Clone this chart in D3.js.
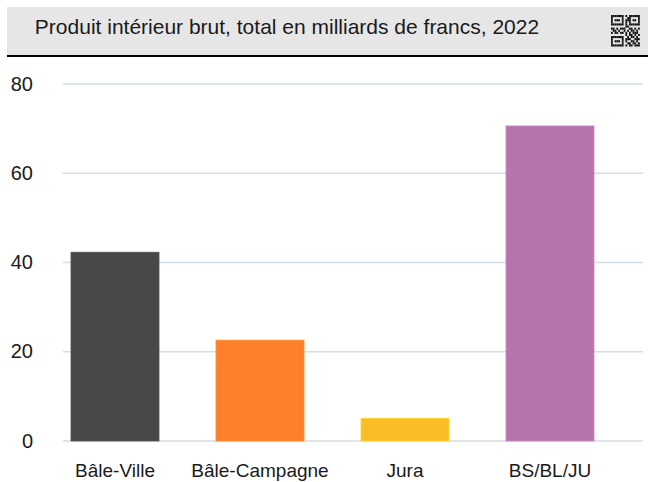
<!DOCTYPE html>
<html>
<head>
<meta charset="utf-8">
<script src="https://cdn.jsdelivr.net/npm/d3@7"></script>
<style>
  body { margin: 0; background: #fff; }
  text { font-family: "Liberation Sans", Arial, sans-serif; fill: #1a1a1a; }
</style>
</head>
<body>
<div id="chart"></div>
<script>
// data
var cantons = ["Bâle-Ville", "Bâle-Campagne", "Jura", "BS/BL/JU"];
var pib = [42.3, 22.6, 5.1, 70.6];
var barColors = ["#484848", "#fd7f29", "#f9bd26", "#b375ab"];
var yTicks = [0, 20, 40, 60, 80];
var title = "Produit intérieur brut, total en milliards de francs, 2022";

var W = 648, H = 482;

var svg = d3.select("#chart").append("svg")
    .attr("width", W)
    .attr("height", H);

// header band
svg.append("rect")
    .attr("x", 7).attr("y", 7)
    .attr("width", W - 7).attr("height", 48)
    .style("fill", "#e6e6e6");
svg.append("rect")
    .attr("x", 7).attr("y", 55)
    .attr("width", W - 7).attr("height", 2)
    .style("fill", "#000");
svg.append("text")
    .attr("x", 287).attr("y", 34)
    .attr("text-anchor", "middle")
    .style("font-size", "21px")
    .text(title);

// little qr-ish badge
var qr = [
  "1111111010111111",
  "1000001001100001",
  "1011101011101101",
  "1000001010100001",
  "1111111010111111",
  "0000000011000000",
  "1101011100110101",
  "0110100101011010",
  "1011011010101110",
  "0000000010110101",
  "1111111001011010",
  "1000001011100111",
  "1011101010011010",
  "1000001001101101",
  "1111111010110111"
];
var qg = svg.append("g").attr("transform", "translate(611,15)");
qr.forEach(function(row, r) {
  row.split("").forEach(function(c, k) {
    if (c === "1") {
      qg.append("rect")
        .attr("x", k * 1.8).attr("y", r * 2.1)
        .attr("width", 1.8).attr("height", 2.1)
        .style("fill", "#111");
    }
  });
});

var y_scale = d3.scaleLinear()
    .domain([0, 80])
    .range([441, 84]);

var x_scale = d3.scaleBand()
    .domain(cantons)
    .range([42.5, 622.5])
    .paddingInner(0.393)
    .paddingOuter(0.1965);

// gridlines
svg.append("g")
    .selectAll("line")
    .data(yTicks)
    .enter().append("line")
    .attr("x1", 63).attr("x2", 643)
    .attr("y1", function(d) { return y_scale(d); })
    .attr("y2", function(d) { return y_scale(d); })
    .style("stroke", "#d3dee6")
    .style("stroke-width", 1.5);

// y tick labels
svg.append("g")
    .selectAll("text")
    .data(yTicks)
    .enter().append("text")
    .attr("x", 33)
    .attr("y", function(d) { return y_scale(d); })
    .attr("dy", "0.33em")
    .attr("text-anchor", "end")
    .style("font-size", "20px")
    .text(function(d) { return d; });

// bars
svg.append("g")
    .selectAll("rect")
    .data(pib)
    .enter().append("rect")
    .attr("x", function(d, i) { return x_scale(cantons[i]); })
    .attr("width", x_scale.bandwidth())
    .attr("y", function(d) { return y_scale(d); })
    .attr("height", function(d) { return y_scale(0) - y_scale(d); })
    .style("fill", function(d, i) { return barColors[i]; })
    .style("stroke", function(d, i) { return d3.color(barColors[i]).brighter(0.4); })
    .style("stroke-width", 0.8);

// x labels
svg.append("g")
    .selectAll("text")
    .data(cantons)
    .enter().append("text")
    .attr("x", function(d) { return x_scale(d) + x_scale.bandwidth() / 2; })
    .attr("y", 477)
    .attr("text-anchor", "middle")
    .style("font-size", "19px")
    .text(function(d) { return d; });
</script>
</body>
</html>
